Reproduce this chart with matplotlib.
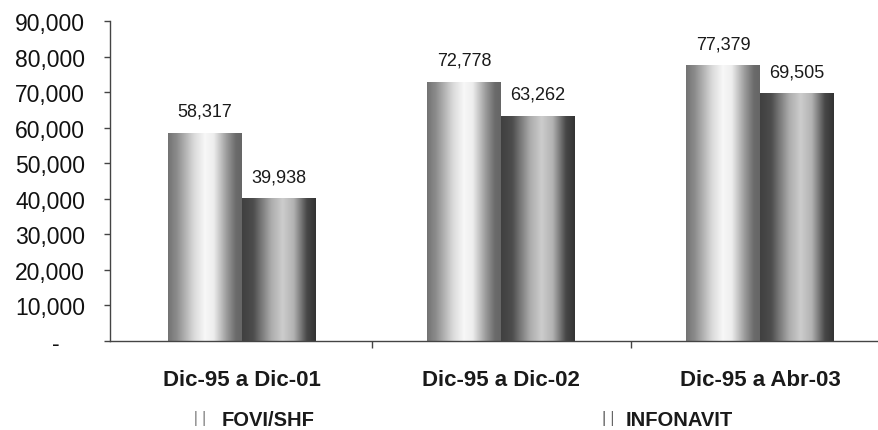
import numpy as np
import matplotlib
matplotlib.use('Agg')
from matplotlib import pyplot as plt
from matplotlib.patches import Patch
from matplotlib.ticker import FuncFormatter

# datos
periodos = ['Dic-95 a Dic-01', 'Dic-95 a Dic-02', 'Dic-95 a Abr-03']
fovi_shf = [58317, 72778, 77379]
infonavit = [39938, 63262, 69505]
series = ['FOVI/SHF', 'INFONAVIT']

plt.rcParams['font.family'] = ['Liberation Sans', 'DejaVu Sans']

fig = plt.figure(figsize=(8.79, 4.31), dpi=100)
ax = fig.add_axes([110/879, 89/431, 769/879, 320/431])

# perfiles de sombreado (efecto cilindro)
u = np.linspace(0, 1, 200)
perfil_fovi = np.interp(u, [0, .12, .35, .5, .62, .8, .92, 1],
                        [.45, .55, .85, .97, .93, .6, .42, .4])
perfil_info = np.interp(u, [0, .15, .4, .55, .7, .88, 1],
                        [.25, .3, .68, .8, .7, .28, .2])

x = np.arange(len(periodos))
w = 0.285
b1 = ax.bar(x - w/2, fovi_shf, w, facecolor='none', edgecolor='none')
b2 = ax.bar(x + w/2, infonavit, w, facecolor='none', edgecolor='none')

for barras, perfil in [(b1, perfil_fovi), (b2, perfil_info)]:
    for r in barras:
        x0, h = r.get_x(), r.get_height()
        ax.imshow(perfil[np.newaxis, :], cmap='gray', vmin=0, vmax=1,
                  extent=[x0, x0 + r.get_width(), 0, h], aspect='auto',
                  interpolation='bilinear', zorder=2)
        ax.annotate('{:,}'.format(int(h)), (x0 + r.get_width()/2, h),
                    xytext=(0, 16), textcoords='offset points',
                    ha='center', va='center', fontsize=13, color='#1a1a1a')

ax.set_xlim(-0.51, -0.51 + 769/259)
ax.set_ylim(0, 90000)

# ejes
for s in ['top', 'right']:
    ax.spines[s].set_visible(False)
for s in ['left', 'bottom']:
    ax.spines[s].set_color('#444444')
    ax.spines[s].set_linewidth(1.0)

ax.set_yticks(np.arange(0, 90001, 10000))
ax.yaxis.set_major_formatter(FuncFormatter(
    lambda v, p: '-    ' if v == 0 else '{:,}'.format(int(v))))
ax.tick_params(axis='y', direction='out', length=4, width=1, color='#444444',
               pad=14, labelsize=16.5, labelcolor='#111111')

ax.set_xticks(x)
ax.set_xticklabels(periodos, fontsize=16, fontweight='bold', color='#1a1a1a')
ax.tick_params(axis='x', which='major', length=0, pad=20)
ax.set_xticks([0.5, 1.5], minor=True)
ax.tick_params(axis='x', which='minor', direction='out', length=5, width=1,
               color='#444444')

# leyenda
handles = [Patch(facecolor='white', edgecolor='#888888', hatch='||', lw=0),
           Patch(facecolor='white', edgecolor='#666666', hatch='||', lw=0)]
leg = ax.legend(handles, series, ncol=2, loc='center left',
                bbox_to_anchor=(195/879, 1 - 421/431),
                bbox_transform=fig.transFigure, frameon=False,
                handlelength=0.7, handleheight=0.7, handletextpad=0.6,
                columnspacing=14.15, borderpad=0, borderaxespad=0,
                prop={'size': 14.5, 'weight': 'bold'})
for t in leg.get_texts():
    t.set_color('#1a1a1a')

fig.savefig('out.png', dpi=100)
